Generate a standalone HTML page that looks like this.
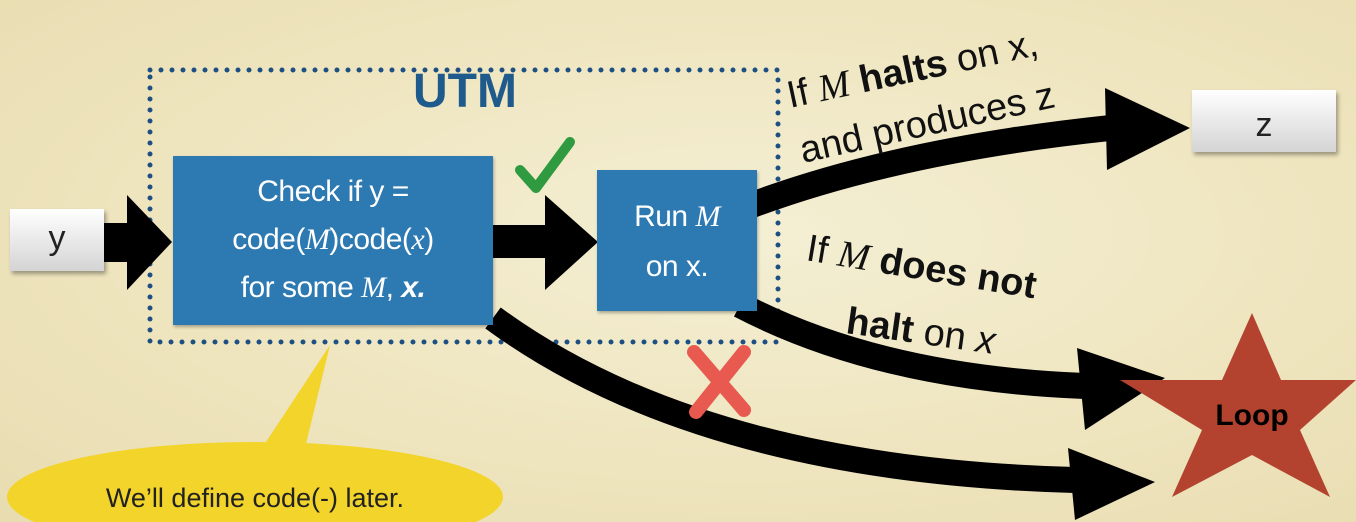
<!DOCTYPE html>
<html><head><meta charset="utf-8"><style>
html,body{margin:0;padding:0}
body{width:1356px;height:522px;overflow:hidden;position:relative;background:radial-gradient(ellipse at 55% 45%,#f4efd4 0%,#eee4bd 60%,#e8dcb0 100%);font-family:"Liberation Sans",sans-serif}
.box{position:absolute;background:linear-gradient(#ffffff,#d4d4d4);box-shadow:2px 3px 4px rgba(0,0,0,.35);text-align:center;color:#222;font-size:34px}
.blue{position:absolute;background:#2d79b1;color:#fff;text-align:center;box-shadow:1px 2px 3px rgba(0,0,0,.3);letter-spacing:-0.5px}
.m{font-family:"Liberation Serif",serif;font-style:italic}
</style></head><body>
<svg width="1356" height="522" style="position:absolute;left:0;top:0;overflow:hidden">
<rect x="150" y="70" width="628" height="272" fill="none" stroke="#1d4f82" stroke-width="5" stroke-dasharray="0 11" stroke-linecap="round"/>
<polygon points="100,223 127,223 127,195 172,242 127,290 127,262 100,262" fill="#000"/>
<polygon points="490,225 545,225 545,195 598,242 545,290 545,258 490,258" fill="#000"/>
<path d="M752,205 Q900,150 1110,128" fill="none" stroke="#000" stroke-width="26"/>
<polygon points="1105,88 1190,128 1107,170" fill="#000"/>
<path d="M740,305 Q880,378 1085,386" fill="none" stroke="#000" stroke-width="26"/>
<polygon points="1077,348 1165,378 1085,430" fill="#000"/>
<path d="M493,318 Q700,470 1075,480" fill="none" stroke="#000" stroke-width="26"/>
<polygon points="1068,448 1155,482 1075,520" fill="#000"/>
<polygon points="1252,313 1281,380 1356,380 1300,430 1330,497 1252,455 1172,497 1202,430 1120,380 1222,380" fill="#b3432f"/>
<text x="1252" y="425" font-size="30" font-weight="bold" text-anchor="middle" fill="#000" font-family="Liberation Sans">Loop</text>
<path d="M520,170 L536,188 L570,142" fill="none" stroke="#2f9a3f" stroke-width="10" stroke-linecap="round" stroke-linejoin="round"/>
<path d="M694,352 L744,410 M744,352 L696,412" stroke="#e85a50" stroke-width="14" stroke-linecap="round"/>
<polygon points="262,448 305,448 330,345" fill="#f2d42a"/>
<ellipse cx="255" cy="497" rx="248" ry="55" fill="#f2d42a"/>
<text x="255" y="507" font-size="27" text-anchor="middle" fill="#222" font-family="Liberation Sans">We’ll define code(-) later.</text>
<text x="465" y="107" font-size="48" font-weight="bold" text-anchor="middle" fill="#1f5a8c" font-family="Liberation Sans">UTM</text>
<g font-family="Liberation Sans" font-size="38" fill="#111">
<text transform="translate(790,108) rotate(-12)">If <tspan font-family="Liberation Serif" font-style="italic">M</tspan> <tspan font-weight="bold">halts</tspan> on x,</text>
<text transform="translate(803,163) rotate(-12.5)">and produces z</text>
<text transform="translate(805,260) rotate(9.5)">If <tspan font-family="Liberation Serif" font-style="italic">M</tspan> <tspan font-weight="bold">does not</tspan></text>
<text transform="translate(845,333) rotate(8)"><tspan font-weight="bold">halt</tspan> on <tspan font-style="italic">x</tspan></text>
</g>
</svg>
<div class="box" style="left:10px;top:209px;width:94px;height:62px;line-height:58px">y</div>
<div class="box" style="left:1192px;top:90px;width:144px;height:62px;line-height:70px">z</div>
<div class="blue" style="left:173px;top:156px;width:320px;height:169px;font-size:30px;line-height:48px;padding-top:12px;box-sizing:border-box">Check if y =<br>code(<span class="m">M</span>)code(<span class="m">x</span>)<br>for some <span class="m">M</span>, <i><b>x.</b></i></div>
<div class="blue" style="left:597px;top:170px;width:160px;height:141px;font-size:30px;line-height:50px;padding-top:22px;box-sizing:border-box">Run <span class="m">M</span><br>on x.</div>
</body></html>
